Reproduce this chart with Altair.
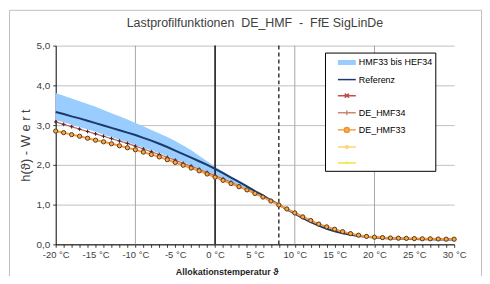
import altair as alt
import pandas as pd

# ---------------- data ----------------
temps = list(range(-20, 31))

band_upper = [3.81, 3.74, 3.67, 3.60, 3.53, 3.46, 3.38, 3.30, 3.22, 3.14,
              3.05, 2.97, 2.88, 2.79, 2.70, 2.60, 2.49, 2.37, 2.23, 2.09,
              1.95, 1.83, 1.71, 1.60, 1.48, 1.36, 1.24, 1.12, 1.00, 0.89,
              0.78, 0.67, 0.57, 0.48, 0.40, 0.34, 0.29, 0.25, 0.22, 0.20,
              0.18, 0.17, 0.16, 0.15, 0.145, 0.14, 0.135, 0.13, 0.13, 0.125, 0.125]
band_lower = [3.13, 3.07, 3.01, 2.95, 2.89, 2.83, 2.76, 2.70, 2.63, 2.57,
              2.50, 2.43, 2.36, 2.29, 2.22, 2.14, 2.07, 1.99, 1.91, 1.83,
              1.75, 1.66, 1.57, 1.48, 1.39, 1.29, 1.20, 1.10, 1.00, 0.90,
              0.80, 0.70, 0.60, 0.51, 0.43, 0.36, 0.30, 0.26, 0.22, 0.19,
              0.17, 0.16, 0.15, 0.145, 0.14, 0.135, 0.13, 0.13, 0.125, 0.12, 0.12]
referenz = [3.33, 3.28, 3.22, 3.17, 3.11, 3.05, 2.99, 2.93, 2.87, 2.81,
            2.75, 2.68, 2.61, 2.53, 2.45, 2.36, 2.27, 2.18, 2.09, 2.00,
            1.90, 1.79, 1.68, 1.57, 1.46, 1.34, 1.23, 1.11, 1.00, 0.88,
            0.77, 0.66, 0.56, 0.47, 0.39, 0.33, 0.28, 0.24, 0.21, 0.19,
            0.17, 0.16, 0.15, 0.145, 0.14, 0.135, 0.13, 0.13, 0.125, 0.125, 0.12]
de_hmf34 = [3.08, 3.02, 2.96, 2.90, 2.84, 2.78, 2.72, 2.66, 2.60, 2.54,
            2.47, 2.40, 2.33, 2.26, 2.19, 2.12, 2.04, 1.97, 1.89, 1.81,
            1.73, 1.65, 1.56, 1.47, 1.38, 1.29, 1.19, 1.10, 1.00, 0.90,
            0.80, 0.70, 0.60, 0.51, 0.44, 0.37, 0.31, 0.27, 0.23, 0.20,
            0.18, 0.165, 0.155, 0.15, 0.145, 0.14, 0.135, 0.13, 0.13, 0.125, 0.125]
de_hmf33 = [2.85, 2.81, 2.76, 2.72, 2.67, 2.62, 2.58, 2.53, 2.48, 2.43,
            2.38, 2.32, 2.26, 2.20, 2.13, 2.06, 1.99, 1.92, 1.85, 1.77,
            1.69, 1.61, 1.53, 1.45, 1.37, 1.28, 1.19, 1.09, 0.99, 0.89,
            0.79, 0.69, 0.60, 0.51, 0.44, 0.38, 0.32, 0.27, 0.23, 0.20,
            0.18, 0.17, 0.16, 0.155, 0.15, 0.145, 0.14, 0.14, 0.135, 0.13, 0.13]

y_ticks = [0, 1, 2, 3, 4, 5]
vgrid = [-10, 10, 20]
zero_line = [0]
marker_line = [8]

legend_names = ["HMF33 bis HEF34\u00a0\u00a0\u00a0\u00a0", "Referenz", " ",
                "DE_HMF34", "DE_HMF33", "  ", "   "]
legend_fill = ["#99CCFF", "transparent", "transparent", "transparent",
               "#F9B04A", "transparent", "transparent"]
legend_stroke = ["transparent", "#1B3A6B", "#C0504D", "#C98A72",
                 "#F0922E", "#FFD37A", "#F5E43A"]
legend_shape = [
    "M0.43,-0.36H3V0.36H0.43Z",
    "M0.43,0H3",
    "M0.43,0H3M1.41,-0.3L2.01,0.3M1.41,0.3L2.01,-0.3",
    "M0.43,0H3M1.71,-0.32V0.32M1.39,0H2.03",
    "M0.43,0H1.36M2.06,0H3M1.36,0A0.35,0.35 0 1,1 2.06,0A0.35,0.35 0 1,1 1.36,0",
    "M0.43,0H3M1.56,-0.15H1.86V0.15H1.56Z",
    "M0.43,0H3M1.5,-0.1H1.95",
]

df = pd.DataFrame({"T": temps, "lo": band_lower, "hi": band_upper,
                   "ref": referenz, "h34": de_hmf34, "h33": de_hmf33})

W, H = 401, 200
xs = alt.Scale(domain=[-20, 30], nice=False, zero=False)
ys = alt.Scale(domain=[0, 5], nice=False, zero=False)

x_axis = alt.Axis(values=temps,
                  labelExpr="datum.value % 5 == 0 ? datum.value + ' °C' : ''",
                  labelOverlap=False, labelFlush=False, grid=False,
                  tickSize=3, tickColor="#404040", domainColor="#000000",
                  domainWidth=1, labelFontSize=9.5, labelColor="#404040",
                  labelPadding=2,
                  title="Allokationstemperatur  \u03d1", titleFontSize=9,
                  titleFontWeight="bold", titleColor="#262626",
                  titleX=172, titleY=27, titleAlign="center",
                  titleBaseline="middle")
y_axis = alt.Axis(values=y_ticks,
                  labelExpr="replace(format(datum.value, '.1f'), '.', ',')",
                  grid=True, gridColor="#C0C0C0", gridWidth=1,
                  tickSize=3, tickColor="#404040", domainColor="#000000",
                  domainWidth=1, labelFontSize=10, labelColor="#404040",
                  labelPadding=3,
                  title="h(\u03d1) - W e r t", titleFontSize=13,
                  titleFontWeight="normal", titleColor="#404040",
                  titleX=-30, titleY=100, titleAngle=270,
                  titleAlign="center", titleBaseline="middle")

X = alt.X("T:Q", scale=xs, axis=x_axis)

frame = alt.Chart(pd.DataFrame({"d": [0]})).mark_rect(
    fill="transparent", stroke="#BFBFBF", strokeWidth=1).encode(
    x=alt.value(-46.5), x2=alt.value(W + 27.5),
    y=alt.value(-35.5), y2=alt.value(H + 60))

grid_v = alt.Chart(pd.DataFrame({"T": vgrid})).mark_rule(
    color="#A6A6A6", strokeWidth=1).encode(x=X)
zero_v = alt.Chart(pd.DataFrame({"T": zero_line})).mark_rule(
    color="#1A1A1A", strokeWidth=1.6).encode(x=X)
dash_v = alt.Chart(pd.DataFrame({"T": marker_line})).mark_rule(
    color="#1A1A1A", strokeWidth=1.3, strokeDash=[4, 3]).encode(x=X)

base = alt.Chart(df)
band = base.mark_area(color="#99CCFF", opacity=1).encode(
    x=X, y=alt.Y("hi:Q", scale=ys, axis=y_axis), y2="lo:Q")
ref_line = base.mark_line(color="#1B3A6B", strokeWidth=2).encode(
    x=X, y=alt.Y("ref:Q", scale=ys, axis=y_axis))
h34_line = base.mark_line(color="#B5625A", strokeWidth=1.2).encode(
    x=X, y=alt.Y("h34:Q", scale=ys, axis=y_axis))
h34_pts = base.mark_point(shape="M-1,0H1M0,-1V1", size=14, filled=False,
                          stroke="#4A1E1E", strokeWidth=1, opacity=1).encode(
    x=X, y=alt.Y("h34:Q", scale=ys, axis=y_axis))
h33_line = base.mark_line(color="#F79646", strokeWidth=2).encode(
    x=X, y=alt.Y("h33:Q", scale=ys, axis=y_axis))
h33_pts = base.mark_point(shape="circle", size=18, filled=True,
                          fill="#F7A948", stroke="#5A3A10", strokeWidth=1,
                          opacity=1).encode(
    x=X, y=alt.Y("h33:Q", scale=ys, axis=y_axis))

leg_def = alt.Legend(title=None, orient="none", legendX=271, legendY=7,
                     padding=2, strokeColor="#000000", fillColor="#FFFFFF",
                     rowPadding=3.2, labelOffset=16, labelFontSize=9,
                     labelColor="#000000", symbolSize=196,
                     symbolStrokeWidth=1.5, labelLimit=200)
legend_layer = alt.Chart(pd.DataFrame({"s": legend_names})).mark_point(
    size=196, strokeWidth=1.5, opacity=1, fillOpacity=1, clip=True).encode(
    x=alt.value(-300), y=alt.value(-300),
    fill=alt.Fill("s:N", scale=alt.Scale(domain=legend_names, range=legend_fill),
                  legend=leg_def, sort=None),
    stroke=alt.Stroke("s:N", scale=alt.Scale(domain=legend_names, range=legend_stroke),
                      legend=leg_def, sort=None),
    shape=alt.Shape("s:N", scale=alt.Scale(domain=legend_names, range=legend_shape),
                    legend=leg_def, sort=None))

chart = alt.layer(frame, grid_v, band, zero_v, dash_v, ref_line, h34_line,
                  h34_pts, h33_line, h33_pts, legend_layer).properties(
    width=W, height=H,
    autosize=alt.AutoSizeParams(type="none"),
    padding={"left": 48, "top": 37, "right": 28, "bottom": 31},
    title=alt.TitleParams("Lastprofilfunktionen\u00a0 DE_HMF\u00a0 -\u00a0 FfE SigLinDe",
                          fontSize=12.5, fontWeight="normal", color="#404040",
                          anchor="middle", offset=10, dy=30,
                          font="Liberation Sans"),
).configure(font="Liberation Sans").configure_view(strokeWidth=0)

chart.save("out.html", embed_options={"renderer": "svg", "actions": False})
